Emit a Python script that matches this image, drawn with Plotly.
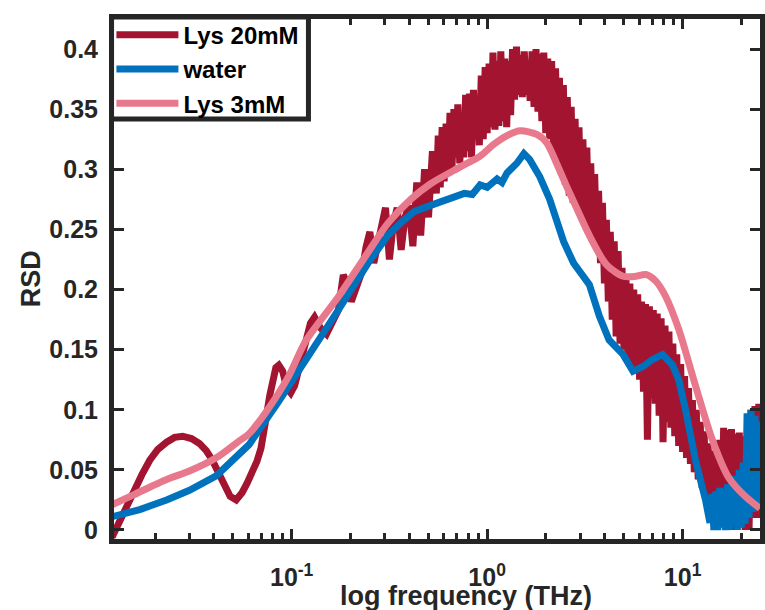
import numpy as np
import plotly.graph_objects as go

# ---- data (log10 of frequency in THz, RSD values) ----
red_logf = [-1.919, -1.888, -1.853, -1.812, -1.766, -1.726, -1.685, -1.640, -1.599, -1.558,
            -1.513, -1.472, -1.437, -1.406, -1.371, -1.340, -1.315, -1.284, -1.254, -1.228,
            -1.203, -1.178, -1.157, -1.142, -1.127, -1.112, -1.096, -1.081, -1.066, -1.046,
            -1.025, -1.005, -0.985, -0.964, -0.934, -0.904, -0.883, -0.853, -0.822, -0.792,
            -0.761, -0.736, -0.716, -0.695,
            -0.66, -0.64, -0.62, -0.60, -0.58, -0.56, -0.54, -0.52, -0.50, -0.48,
            -0.46, -0.44, -0.42, -0.40, -0.38, -0.36, -0.34, -0.32, -0.30, -0.28, -0.26,
            -0.25, -0.24, -0.23, -0.22, -0.21, -0.20, -0.19, -0.18, -0.17, -0.16,
            -0.15, -0.14, -0.13, -0.12, -0.11, -0.10, -0.09, -0.08, -0.07, -0.06,
            -0.05, -0.04, -0.03, -0.02, -0.01, 0.00, 0.01, 0.02, 0.03, 0.04,
            0.05, 0.06, 0.07, 0.08, 0.09, 0.10, 0.11, 0.12, 0.13, 0.14,
            0.15, 0.16, 0.17, 0.18, 0.19, 0.20, 0.21, 0.22, 0.23, 0.24,
            0.25, 0.26, 0.27, 0.28, 0.29, 0.30, 0.31, 0.32, 0.33, 0.34,
            0.35, 0.36, 0.37, 0.38, 0.39, 0.40, 0.41, 0.42, 0.43, 0.44,
            0.45, 0.46, 0.47, 0.48, 0.49, 0.50, 0.51, 0.52, 0.53, 0.54,
            0.55, 0.56, 0.57, 0.58, 0.59, 0.60, 0.61, 0.62, 0.63, 0.64,
            0.65, 0.66, 0.67, 0.68, 0.69, 0.70, 0.71, 0.72, 0.73, 0.74,
            0.75, 0.76, 0.77, 0.78, 0.79, 0.80, 0.81, 0.82, 0.83, 0.84,
            0.85, 0.86, 0.87, 0.88, 0.89, 0.90, 0.91, 0.92, 0.93, 0.94,
            0.95, 0.96, 0.97, 0.98, 0.99, 1.00, 1.01, 1.02, 1.03, 1.04,
            1.05, 1.06, 1.07, 1.08, 1.09, 1.10, 1.11, 1.12, 1.13, 1.14,
            1.15, 1.16, 1.17, 1.18, 1.19, 1.20, 1.21, 1.22, 1.23, 1.24,
            1.25, 1.26, 1.27, 1.28, 1.29, 1.30, 1.31, 1.32, 1.33, 1.34,
            1.35, 1.36, 1.37, 1.38, 1.39, 1.40, 1.41]
red_val = [-0.006, 0.005, 0.017, 0.031, 0.046, 0.058, 0.067, 0.073, 0.077, 0.078,
           0.076, 0.072, 0.066, 0.058, 0.046, 0.035, 0.028, 0.025, 0.031, 0.039,
           0.047, 0.057, 0.068, 0.080, 0.097, 0.112, 0.125, 0.135, 0.137, 0.132,
           0.118, 0.114, 0.120, 0.135, 0.155, 0.172, 0.177, 0.168, 0.163, 0.172,
           0.183, 0.212, 0.205, 0.190,
           0.205, 0.215, 0.235, 0.248, 0.222, 0.240, 0.258, 0.268, 0.225, 0.255,
           0.268, 0.233, 0.260, 0.270, 0.236, 0.289, 0.245, 0.300, 0.260, 0.315, 0.280,
           0.328, 0.285, 0.335, 0.290, 0.338, 0.295, 0.347, 0.300, 0.350, 0.310,
           0.354, 0.305, 0.345, 0.310, 0.362, 0.315, 0.363, 0.310, 0.366, 0.325,
           0.360, 0.320, 0.378, 0.325, 0.385, 0.330, 0.388, 0.335, 0.397, 0.333,
           0.390, 0.336, 0.398, 0.340, 0.392, 0.335, 0.390, 0.345, 0.400, 0.358,
           0.402, 0.362, 0.395, 0.360, 0.398, 0.362, 0.390, 0.357, 0.398, 0.352,
           0.400, 0.348, 0.396, 0.340, 0.397, 0.330, 0.392, 0.325, 0.390, 0.315,
           0.384, 0.305, 0.376, 0.295, 0.370, 0.287, 0.360, 0.278, 0.352, 0.272,
           0.342, 0.268, 0.335, 0.262, 0.325, 0.256, 0.318, 0.250, 0.305, 0.245,
           0.296, 0.238, 0.282, 0.222, 0.272, 0.205, 0.258, 0.190, 0.248, 0.175,
           0.240, 0.161, 0.232, 0.155, 0.218, 0.150, 0.212, 0.143, 0.205, 0.138,
           0.200, 0.130, 0.196, 0.125, 0.190, 0.115, 0.188, 0.075, 0.186, 0.110,
           0.183, 0.105, 0.180, 0.095, 0.176, 0.073, 0.170, 0.090, 0.165, 0.085,
           0.155, 0.078, 0.146, 0.070, 0.138, 0.065, 0.128, 0.060, 0.118, 0.055,
           0.108, 0.048, 0.100, 0.042, 0.090, 0.035, 0.082, 0.030, 0.072, 0.025,
           0.066, 0.018, 0.060, 0.010, 0.075, 0.005, 0.085, 0.003, 0.083, 0.000,
           0.084, 0.000, 0.080, 0.002, 0.081, 0.003, 0.078, 0.000, 0.045, 0.000,
           0.100, 0.010, 0.103, 0.010, 0.105, 0.020, 0.100]

water_logf = [-1.919, -1.777, -1.640, -1.523, -1.386, -1.218, -1.066, -0.964, -0.761, -0.609,
              -0.508, -0.431, -0.371, -0.289, -0.203, -0.117, -0.076, -0.036, 0.000, 0.051,
              0.076, 0.102, 0.152, 0.188, 0.218, 0.269, 0.320, 0.355, 0.391, 0.442,
              0.492, 0.523, 0.574, 0.624, 0.660, 0.695, 0.746, 0.797, 0.848, 0.898,
              0.949, 0.980, 1.015, 1.066, 1.117, 1.14,
              1.15, 1.16, 1.17, 1.18, 1.19, 1.20, 1.21, 1.22, 1.23, 1.24,
              1.25, 1.26, 1.27, 1.28, 1.29, 1.30, 1.31, 1.32, 1.33, 1.34,
              1.35, 1.36, 1.37, 1.38, 1.39, 1.40, 1.41]
water_val = [0.011, 0.017, 0.025, 0.033, 0.045, 0.071, 0.107, 0.132, 0.183, 0.222,
             0.245, 0.257, 0.265, 0.270, 0.275, 0.280, 0.279, 0.287, 0.285, 0.292,
             0.289, 0.297, 0.305, 0.313, 0.308, 0.294, 0.275, 0.258, 0.240, 0.222,
             0.212, 0.204, 0.178, 0.158, 0.152, 0.146, 0.132, 0.136, 0.142, 0.146,
             0.137, 0.125, 0.100, 0.058, 0.025, 0.006,
             0.030, 0.000, 0.032, 0.000, 0.035, 0.002, 0.030, 0.000, 0.038, 0.000,
             0.040, 0.003, 0.045, 0.000, 0.050, 0.002, 0.056, 0.005, 0.097, 0.010,
             0.100, 0.015, 0.095, 0.020, 0.090, 0.030, 0.085]

lys3_logf = [-1.919, -1.812, -1.640, -1.523, -1.386, -1.269, -1.218, -1.132, -1.015, -0.929,
             -0.761, -0.609, -0.508, -0.391, -0.289, -0.137, -0.036, 0.036, 0.102, 0.168,
             0.254, 0.305, 0.355, 0.406, 0.457, 0.523, 0.609, 0.695, 0.761, 0.812,
             0.863, 0.914, 0.980, 1.066, 1.152, 1.234, 1.320, 1.396]
lys3_val = [0.021, 0.029, 0.042, 0.049, 0.060, 0.074, 0.080, 0.098, 0.128, 0.157,
            0.194, 0.231, 0.255, 0.275, 0.288, 0.302, 0.311, 0.321, 0.328, 0.332,
            0.329, 0.322, 0.305, 0.286, 0.268, 0.245, 0.221, 0.211, 0.211, 0.2125,
            0.207, 0.194, 0.167, 0.120, 0.075, 0.044, 0.028, 0.018]

x_ticks = [0.1, 1, 10]
x_ticktext = ["10<sup>-1</sup>", "10<sup>0</sup>", "10<sup>1</sup>"]
x_minor = [0.02, 0.03, 0.04, 0.05, 0.06, 0.07, 0.08, 0.09,
           0.2, 0.3, 0.4, 0.5, 0.6, 0.7, 0.8, 0.9,
           2, 3, 4, 5, 6, 7, 8, 9, 20]
y_ticks = [0, 0.05, 0.1, 0.15, 0.2, 0.25, 0.3, 0.35, 0.4]
y_ticktext = ["0", "0.05", "0.1", "0.15", "0.2", "0.25", "0.3", "0.35", "0.4"]

AX = "#262626"
FONT = "Liberation Sans, Arial, Helvetica, sans-serif"

fig = go.Figure()
fig.add_trace(go.Scatter(x=10 ** np.array(red_logf), y=red_val, mode="lines", name="Lys 20mM",
                         line=dict(color="#A2142F", width=7)))
fig.add_trace(go.Scatter(x=10 ** np.array(water_logf), y=water_val, mode="lines", name="water",
                         line=dict(color="#0072BD", width=7)))
fig.add_trace(go.Scatter(x=10 ** np.array(lys3_logf), y=lys3_val, mode="lines", name="Lys 3mM",
                         line=dict(color="#E8798C", width=7, shape="spline", smoothing=0.8)))

fig.update_layout(
    width=765, height=610,
    margin=dict(l=114, r=0, t=19, b=71),
    paper_bgcolor="white", plot_bgcolor="white",
    font=dict(family=FONT, color="black", weight="bold"),
    showlegend=True,
    legend=dict(x=-0.004, y=1.012, xanchor="left", yanchor="top",
                bgcolor="rgba(0,0,0,0)", borderwidth=0,
                font=dict(family=FONT, size=24, color="black", weight="bold"),
                itemwidth=62),
    shapes=[dict(type="rect", xref="paper", yref="paper",
                 x0=-0.0038, x1=0.301, y0=0.8077, y1=1.0038,
                 line=dict(color=AX, width=5), fillcolor="white", layer="above")],
    xaxis=dict(type="log", range=[-1.909, 1.396], tickmode="array",
               tickvals=x_ticks, ticktext=x_ticktext,
               showline=True, linewidth=5, linecolor=AX, mirror="ticks",
               ticks="inside", ticklen=10, tickwidth=3, tickcolor=AX,
               showgrid=False, zeroline=False, ticklabelstandoff=12,
               tickfont=dict(family=FONT, size=25, color=AX, weight="bold"),
               minor=dict(tickmode="array", tickvals=x_minor, ticks="inside",
                          ticklen=6, tickwidth=3, tickcolor=AX, showgrid=False)),
    yaxis=dict(range=[-0.0075, 0.425], tickmode="array", tickvals=y_ticks, ticktext=y_ticktext,
               showline=True, linewidth=5, linecolor=AX, mirror="ticks",
               ticks="inside", ticklen=10, tickwidth=3, tickcolor=AX,
               showgrid=False, zeroline=False, ticklabelstandoff=6,
               tickfont=dict(family=FONT, size=25, color=AX, weight="bold")),
    annotations=[
        dict(text="log frequency (THz)", xref="paper", yref="paper", x=0.545, y=-0.11,
             xanchor="center", yanchor="middle", showarrow=False,
             font=dict(family=FONT, size=27, color=AX, weight="bold")),
        dict(text="RSD", xref="paper", yref="paper", x=-0.128, y=0.5, textangle=-90,
             xanchor="center", yanchor="middle", showarrow=False,
             font=dict(family=FONT, size=27, color=AX, weight="bold")),
    ],
)

fig.write_html("out.html")
